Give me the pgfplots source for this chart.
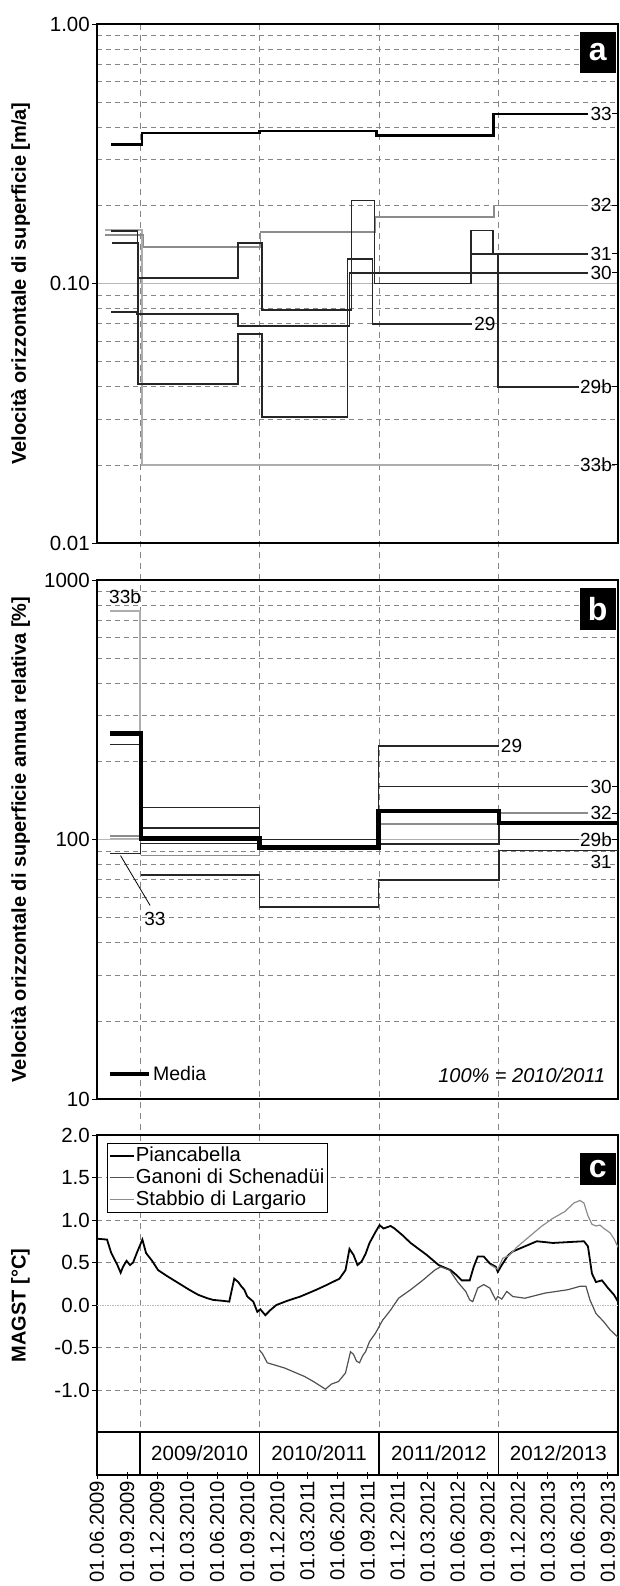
\documentclass[border=0pt]{standalone}
\usepackage{fontspec}
\setmainfont{Liberation Sans}
\usepackage{pgfplots}
\pgfplotsset{compat=1.18}

\definecolor{gridc}{HTML}{858585}
\definecolor{gridmaj}{HTML}{B8B8B8}
\definecolor{ser}{HTML}{262626}
\definecolor{gser}{HTML}{8C8C8C}
\definecolor{lser}{HTML}{ADADAD}
\newcommand\lbl{\fontsize{19}{21}\selectfont}
\newcommand\tkl{\fontsize{20.5}{22}\selectfont}

\pgfplotsset{
 panel/.style={
  scale only axis, width=521pt,
  xmin=0, xmax=52, xtick=\empty,
  axis line style={line width=1.4pt, black},
  tick align=outside, ytick pos=left,
  major tick length=5pt, minor tick length=0pt,
  tick style={black, line width=1pt},
  ymajorgrids, yminorgrids,
  major grid style={solid, gridmaj, line width=0.9pt},
  minor grid style={gridc, line width=0.8pt, dash pattern=on 5pt off 4pt},
  tick label style={font=\tkl},
  yticklabel style={inner sep=2pt},
  /pgf/number format/assume math mode=true,
  ylabel style={font=\bfseries\fontsize{20}{22}\selectfont, at={(axis description cs:-0.165,0.5)}, anchor=north, inner sep=0pt},
 },
}
\tikzset{
 lab/.style={font=\lbl, inner sep=1pt},
 box/.style={fill=black, text=white, font=\bfseries\fontsize{32}{32}\selectfont, minimum width=36pt, anchor=north east, inner sep=0pt},
}

\begin{document}
\begin{tikzpicture}[x=1pt,y=1pt]
\useasboundingbox (0,0) rectangle (619,-1586);
\foreach \xx in {140.08,259.31,379.04,498.77}{
 \draw[gridc, line width=0.9pt, dash pattern=on 6pt off 5pt] (\xx,-24) -- (\xx,-1432);
}

% ---------------- panel a
\begin{axis}[panel, at={(97pt,-24pt)}, anchor=north west, height=519pt,
  ymode=log, ymin=0.01, ymax=1, ytick={0.01,0.1,1}, yticklabels={0.01,0.10,1.00},
  minor ytick={0.02,0.03,0.04,0.05,0.06,0.07,0.08,0.09,0.2,0.3,0.4,0.5,0.6,0.7,0.8,0.9},
  ylabel={Velocità orizzontale di superficie [m/a]}]
% 33b
\addplot[lser, line width=1.5pt] coordinates {(0.8,0.161) (4.5,0.161) (4.5,0.02) (39.4,0.02)};
% 32
\addplot[gser, line width=1.6pt] coordinates {(0.8,0.154) (4.65,0.154) (4.65,0.138) (16.3,0.138) (16.3,0.158) (27.8,0.158) (27.8,0.18) (39.6,0.18) (39.6,0.2) (49,0.2)};
% 31
\addplot[ser, line width=1.8pt] coordinates {(1.4,0.159) (4.05,0.159) (4.05,0.105) (14.1,0.105) (14.1,0.143) (16.45,0.143) (16.45,0.079) (25.4,0.079) (25.4,0.209) (27.7,0.209) (27.7,0.10) (37.3,0.10) (37.3,0.16) (39.5,0.16) (39.5,0.13) (49,0.13)};
% 30
\addplot[ser, line width=1.8pt] coordinates {(1.4,0.0775) (4.0,0.0775) (4.0,0.0764) (14.1,0.0764) (14.1,0.0685) (25.2,0.0685) (25.2,0.11) (49,0.11)};
% 29
\addplot[ser, line width=1.8pt] coordinates {(1.5,0.143) (4.1,0.143) (4.1,0.041) (14.05,0.041) (14.05,0.064) (16.5,0.064) (16.5,0.0307) (25.0,0.0307) (25.0,0.124) (27.5,0.124) (27.5,0.07) (37.4,0.07)};
% 29b
\addplot[ser, line width=1.8pt] coordinates {(37.4,0.13) (40.0,0.13) (40.0,0.04) (48.1,0.04)};
% 33
\addplot[black, line width=2.6pt] coordinates {(1.4,0.344) (4.5,0.344) (4.5,0.38) (16.2,0.38) (16.2,0.387) (27.9,0.387) (27.9,0.372) (39.6,0.372) (39.6,0.45) (49,0.45)};
\node[lab, anchor=west] at (axis cs:49.15,0.45) {33};
\node[lab, anchor=west] at (axis cs:49.15,0.2) {32};
\node[lab, anchor=west] at (axis cs:49.15,0.13) {31};
\node[lab, anchor=west] at (axis cs:49.15,0.11) {30};
\node[lab, anchor=west] at (axis cs:37.55,0.07) {29};
\node[lab, anchor=west] at (axis cs:48.1,0.04) {29b};
\node[lab, anchor=west] at (axis cs:48.1,0.02) {33b};
\draw[black, line width=1pt] (axis cs:51.4,0.45) -- (axis cs:52,0.45);
\draw[black, line width=1pt] (axis cs:51.4,0.2) -- (axis cs:52,0.2);
\draw[black, line width=1pt] (axis cs:51.4,0.13) -- (axis cs:52,0.13);
\draw[black, line width=1pt] (axis cs:51.4,0.11) -- (axis cs:52,0.11);
\draw[black, line width=1pt] (axis cs:51.4,0.04) -- (axis cs:52,0.04);
\draw[black, line width=1pt] (axis cs:51.4,0.02) -- (axis cs:52,0.02);
\node[box, minimum height=41pt] at (rel axis cs:0.996,0.985) {a};
\end{axis}

% ---------------- panel b
\begin{axis}[panel, at={(97pt,-580pt)}, anchor=north west, height=519pt,
  ymode=log, ymin=10, ymax=1000, ytick={10,100,1000}, yticklabels={10,100,1000},
  minor ytick={20,30,40,50,60,70,80,90,200,300,400,500,600,700,800,900},
  ylabel={Velocità orizzontale di superficie annua relativa [\%]},
  legend style={at={(0.02,0.048)}, anchor=west, draw=none, fill=none, font=\fontsize{19.5}{21}\selectfont, inner sep=0pt},
  legend image code/.code={\draw[#1] (0pt,0pt) -- (39pt,0pt);}]
\addplot[lser, line width=1.5pt, forget plot] coordinates {(1.3,760) (4.3,760) (4.3,100) (40.1,100)};
\addplot[ser, line width=1.6pt, forget plot] coordinates {(1.3,232) (4.2,232)};
\addplot[gser, line width=1.5pt, forget plot] coordinates {(1.3,103) (4.3,103)};
\addplot[lser, line width=1.5pt, forget plot] coordinates {(1.3,101) (4.3,101)};
\addplot[ser, line width=1.6pt, forget plot] coordinates {(1.3,88.4) (4.35,88.4) (4.35,96.5) (16.2,96.5) (16.2,100) (28.1,100) (28.1,96.2) (40.1,96.2) (40.1,116) (49,116)};
\addplot[gser, line width=1.6pt, forget plot] coordinates {(4.35,86.7) (16.2,86.7) (16.2,100) (28.1,100) (28.1,114.8) (40.1,114.8) (40.1,126.5) (49,126.5)};
\addplot[ser, line width=1.6pt, forget plot] coordinates {(4.35,73) (16.2,73) (16.2,54.8) (28.1,54.8) (28.1,69.8) (40.1,69.8) (40.1,90.7) (52,90.7)};
\addplot[ser, line width=1.6pt, forget plot] coordinates {(4.35,111) (16.2,111) (16.2,100) (28.1,100) (28.1,160) (49,160)};
\addplot[ser, line width=1.6pt, forget plot] coordinates {(4.35,133) (16.2,133) (16.2,100) (28.1,100) (28.1,229) (40.1,229)};
\addplot[ser, line width=1.6pt, forget plot] coordinates {(40.1,100) (48.1,100)};
\addplot[black, line width=4.5pt] coordinates {(1.3,256) (4.4,256) (4.4,101) (16.2,101) (16.2,93) (28.1,93) (28.1,128.6) (40.1,128.6) (40.1,115.6) (52,115.6)};
\addlegendentry{Media}
\node[lab, anchor=west] at (axis cs:1.1,859) {33b};
\node[lab, anchor=west] at (axis cs:40.2,229) {29};
\node[lab, anchor=west] at (axis cs:49.15,160) {30};
\node[lab, anchor=west] at (axis cs:49.15,126.5) {32};
\node[lab, anchor=west] at (axis cs:48.1,100) {29b};
\node[lab, anchor=west] at (axis cs:49.15,82.2) {31};
\node[lab, anchor=west] at (axis cs:4.6,49.5) {33};
\draw[black, line width=0.8pt] (axis cs:2.35,86.7) -- (axis cs:5.3,55.7);
\draw[black, line width=1pt] (axis cs:51.4,160) -- (axis cs:52,160);
\draw[black, line width=1pt] (axis cs:51.4,126.5) -- (axis cs:52,126.5);
\draw[black, line width=1pt] (axis cs:51.4,100) -- (axis cs:52,100);
\node[inner sep=1pt, anchor=east, font=\itshape\fontsize{20}{22}\selectfont] at (axis cs:50.85,12.3) {100\% = 2010/2011};
\node[box, minimum height=42pt] at (rel axis cs:0.996,0.985) {b};
\end{axis}

% ---------------- panel c
\begin{axis}[panel, at={(97pt,-1135pt)}, anchor=north west, height=297.5pt,
  ymin=-1.5, ymax=2, ytick={-1,-0.5,0.5,1,1.5,2}, yticklabels={-1.0,-0.5,0.5,1.0,1.5,2.0},
  yminorgrids=false,
  major grid style={gridc, line width=0.8pt, dash pattern=on 5pt off 4pt},
  extra y ticks={0}, extra y tick labels={0.0},
  extra y tick style={major grid style={gridmaj, line width=0.9pt, dash pattern=on 1.5pt off 1pt}},
  ylabel={MAGST [°C]},
  ylabel style={at={(axis description cs:-0.165,0.427)}},
  legend style={at={(0.019,0.973)}, anchor=north west, draw=black, line width=1pt, fill=white, font=\fontsize{20.3}{22}\selectfont, inner sep=1.5pt, legend cell align=left,
    nodes={text height=15pt, text depth=4.5pt, inner sep=1.2pt}},
  legend image code/.code={\draw[#1] (0pt,0pt) -- (24pt,0pt);}]
\addplot[black, line width=1.8pt] coordinates {(0,0.78) (1.0,0.77) (1.4,0.62) (1.77,0.53) (2.0,0.48) (2.36,0.38) (2.6,0.45) (2.95,0.52) (3.3,0.47) (3.6,0.5) (4.0,0.62) (4.53,0.77) (4.9,0.61) (5.5,0.52) (6.1,0.41) (7.0,0.34) (8.1,0.26) (9.2,0.18) (10.1,0.12) (11.0,0.08) (11.6,0.06) (12.5,0.05) (13.2,0.04) (13.7,0.31) (14.1,0.27) (14.4,0.22) (14.7,0.18) (15.0,0.1) (15.3,0.07) (15.6,0.04) (16.0,-0.08) (16.3,-0.05) (16.8,-0.12) (17.3,-0.06) (17.9,0.0) (19.0,0.05) (20.3,0.1) (21.9,0.18) (23.0,0.24) (24.2,0.31) (24.8,0.41) (25.2,0.66) (25.6,0.59) (26.0,0.47) (26.4,0.51) (26.8,0.6) (27.2,0.73) (27.8,0.86) (28.2,0.94) (28.6,0.9) (29.3,0.93) (29.7,0.9) (30.5,0.82) (31.3,0.73) (32.1,0.66) (32.9,0.59) (34.1,0.47) (35.3,0.41) (35.9,0.35) (36.4,0.29) (37.2,0.29) (37.6,0.45) (38.0,0.57) (38.6,0.57) (39.2,0.49) (39.8,0.45) (40.0,0.39) (40.4,0.47) (41.0,0.58) (41.5,0.63) (42.7,0.69) (43.9,0.75) (45.5,0.73) (47.0,0.74) (48.6,0.75) (49.0,0.69) (49.4,0.37) (49.8,0.27) (50.4,0.29) (51.0,0.2) (51.6,0.12) (52,0.04)};
\addlegendentry{Piancabella}
\addplot[ser!80!white, line width=1.2pt] coordinates {(16.2,-0.53) (16.5,-0.57) (17.0,-0.68) (18.7,-0.74) (20.7,-0.84) (21.6,-0.9) (22.4,-0.96) (22.8,-0.99) (23.4,-0.93) (24.1,-0.9) (24.8,-0.8) (25.3,-0.55) (25.6,-0.58) (25.9,-0.66) (26.2,-0.68) (26.5,-0.6) (26.8,-0.55) (27.2,-0.43) (27.8,-0.33) (28.5,-0.18) (29.3,-0.06) (30.1,0.08) (31.3,0.18) (32.5,0.29) (33.7,0.41) (34.3,0.45) (35.2,0.41) (36.0,0.27) (36.8,0.16) (37.2,0.06) (37.5,0.04) (38.0,0.2) (38.6,0.24) (39.2,0.2) (39.8,0.06) (40.0,0.1) (40.4,0.07) (40.9,0.16) (41.5,0.1) (42.7,0.08) (44.7,0.14) (47.0,0.18) (48.2,0.22) (48.8,0.22) (49.2,0.06) (49.8,-0.1) (50.6,-0.2) (51.2,-0.29) (52,-0.38)};
\addlegendentry{Ganoni di Schenadüi}
\addplot[gser, line width=1.2pt] coordinates {(39.3,0.47) (40.0,0.42) (40.5,0.55) (41.1,0.58) (41.9,0.68) (43.1,0.8) (44.3,0.92) (45.5,1.02) (46.7,1.1) (47.6,1.2) (48.2,1.23) (48.6,1.2) (49.0,1.05) (49.4,0.95) (49.8,0.93) (50.2,0.94) (50.6,0.9) (51.2,0.85) (51.6,0.78) (52,0.68)};
\addlegendentry{Stabbio di Largario}
\node[box, minimum height=32pt] at (rel axis cs:0.996,0.94) {c};
\end{axis}

% ---------------- season band
\begin{axis}[scale only axis, width=521pt, height=43pt, at={(97pt,-1432pt)}, anchor=north west,
  xmin=0, xmax=52, ymin=0, ymax=1, ytick=\empty,
  xtick={0,3,...,51},
  xticklabels={01.06.2009,01.09.2009,01.12.2009,01.03.2010,01.06.2010,01.09.2010,01.12.2010,01.03.2011,01.06.2011,01.09.2011,01.12.2011,01.03.2012,01.06.2012,01.09.2012,01.12.2012,01.03.2013,01.06.2013,01.09.2013},
  xticklabel style={rotate=90, anchor=east, font=\fontsize{20.3}{22}\selectfont, inner sep=2pt},
  tick align=center, major tick length=7pt, xtick pos=bottom,
  tick style={black, line width=1pt},
  axis line style={line width=1.3pt, black}]
\draw[black, line width=1.2pt] (axis cs:4.3,0) -- (axis cs:4.3,1);
\draw[black, line width=1.2pt] (axis cs:16.2,0) -- (axis cs:16.2,1);
\draw[black, line width=1.2pt] (axis cs:28.15,0) -- (axis cs:28.15,1);
\draw[black, line width=1.2pt] (axis cs:40.1,0) -- (axis cs:40.1,1);
\node[font=\fontsize{20.5}{22}\selectfont] at (axis cs:10.25,0.5) {2009/2010};
\node[font=\fontsize{20.5}{22}\selectfont] at (axis cs:22.175,0.5) {2010/2011};
\node[font=\fontsize{20.5}{22}\selectfont] at (axis cs:34.125,0.5) {2011/2012};
\node[font=\fontsize{20.5}{22}\selectfont] at (axis cs:46.05,0.5) {2012/2013};
\end{axis}
\end{tikzpicture}
\end{document}
